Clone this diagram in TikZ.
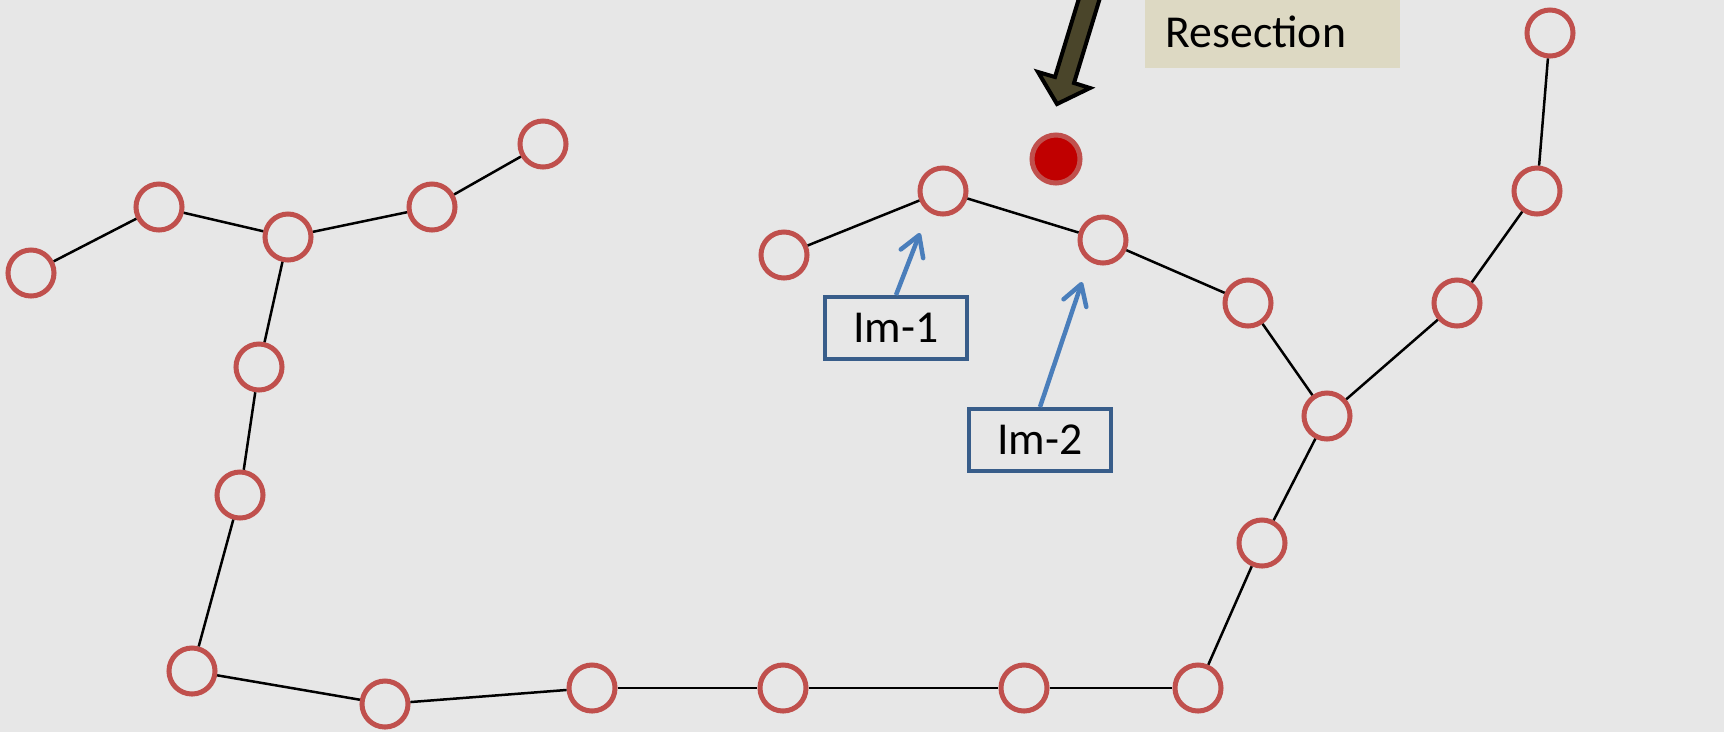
\documentclass[tikz,border=0pt]{standalone}
\usepackage{fontspec}
\setmainfont{Carlito}
\usepackage{xcolor}
\usetikzlibrary{arrows.meta,positioning}
\definecolor{stationred}{HTML}{C0504D}
\definecolor{newred}{HTML}{C00000}
\definecolor{labelblue}{HTML}{385D8A}
\definecolor{pointerblue}{HTML}{4A7EBB}
\definecolor{notetan}{HTML}{DDD9C3}
\definecolor{blockolive}{HTML}{4A452A}
\definecolor{paper}{HTML}{E7E7E7}

\begin{document}
\begin{tikzpicture}[
    x=0.01cm, y=-0.01cm,
    station/.style={
        circle,
        draw=stationred,
        line width=0.05cm,
        minimum size=0.46cm,
        inner sep=0pt
    },
    newstation/.style={
        circle,
        fill=newred,
        draw=stationred,
        line width=0.05cm,
        minimum size=0.48cm,
        inner sep=0pt
    },
    link/.style={
        line width=0.025cm,
        color=black
    },
    imlabel/.style={
        draw=labelblue,
        line width=0.04cm,
        minimum width=1.42cm,
        minimum height=0.62cm,
        inner sep=0pt,
        font=\fontsize{13}{15}\selectfont
    },
    pointer/.style={
        -{Straight Barb[round,length=0.2cm,width=0.24cm]},
        line width=0.045cm,
        color=pointerblue
    },
    note/.style={
        fill=notetan,
        anchor=south west,
        minimum height=0.73cm,
        text width=2.13cm,
        inner xsep=0.21cm,
        align=left,
        font=\fontsize{13}{15}\selectfont
    }
]

% grey ground
\useasboundingbox (0,0) rectangle (1724,732);
\clip (0,0) rectangle (1724,732);
\fill[paper] (0,0) rectangle (1724,732);

% left branch
\node[station] (cam1) at (31,273) {};
\node[station] (cam2) at (159,207) {};
\node[station] (cam3) at (288,237) {};
\node[station] (cam4) at (432,207) {};
\node[station] (cam5) at (543,144) {};

% down the left side and along the bottom
\node[station] (cam6) at (259,367) {};
\node[station] (cam7) at (240,495) {};
\node[station] (cam8) at (192,671) {};
\node[station] (cam9) at (385,704) {};
\node[station] (cam10) at (592,688) {};
\node[station] (cam11) at (783,688) {};
\node[station] (cam12) at (1024,688) {};
\node[station] (cam13) at (1198,688) {};

% up the right side
\node[station] (cam14) at (1262,543) {};
\node[station] (cam15) at (1327,416) {};
\node[station] (cam16) at (1457,303) {};
\node[station] (cam17) at (1537,191) {};
\node[station] (cam18) at (1550,33) {};

% middle branch
\node[station] (cam19) at (1248,303) {};
\node[station] (cam20) at (1103,240) {};
\node[station] (cam21) at (943,191) {};
\node[station] (cam22) at (784,255) {};

% the new image
\node[newstation] (newcam) at (1056,159) {};

\foreach \a/\b in {cam1/cam2, cam2/cam3, cam3/cam4, cam4/cam5,
                   cam3/cam6, cam6/cam7, cam7/cam8, cam8/cam9,
                   cam9/cam10, cam10/cam11, cam11/cam12, cam12/cam13,
                   cam13/cam14, cam14/cam15, cam15/cam16, cam16/cam17,
                   cam17/cam18, cam15/cam19, cam19/cam20, cam20/cam21,
                   cam21/cam22} {
    \draw[link] (\a) -- (\b);
}

% block arrow onto the new image
\filldraw[fill=blockolive, draw=black, line width=0.04cm, line join=miter]
    (1057,104) -- (1090,88) -- (1074,83) -- (1106,-22) -- (1087,-28)
    -- (1055,77) -- (1038,72) -- cycle;

\node[note] (resection) at (1144,69) {Resection};

% image labels
\node[imlabel] (im1) at (896,328) {Im-1};
\node[imlabel] (im2) at (1040,440) {Im-2};

\coordinate (im1tip) at (920,233);
\coordinate (im2tip) at (1082,282);

\draw[pointer] (im1.north) -- (im1tip);
\draw[pointer] (im2.north) -- (im2tip);

\end{tikzpicture}
\end{document}
